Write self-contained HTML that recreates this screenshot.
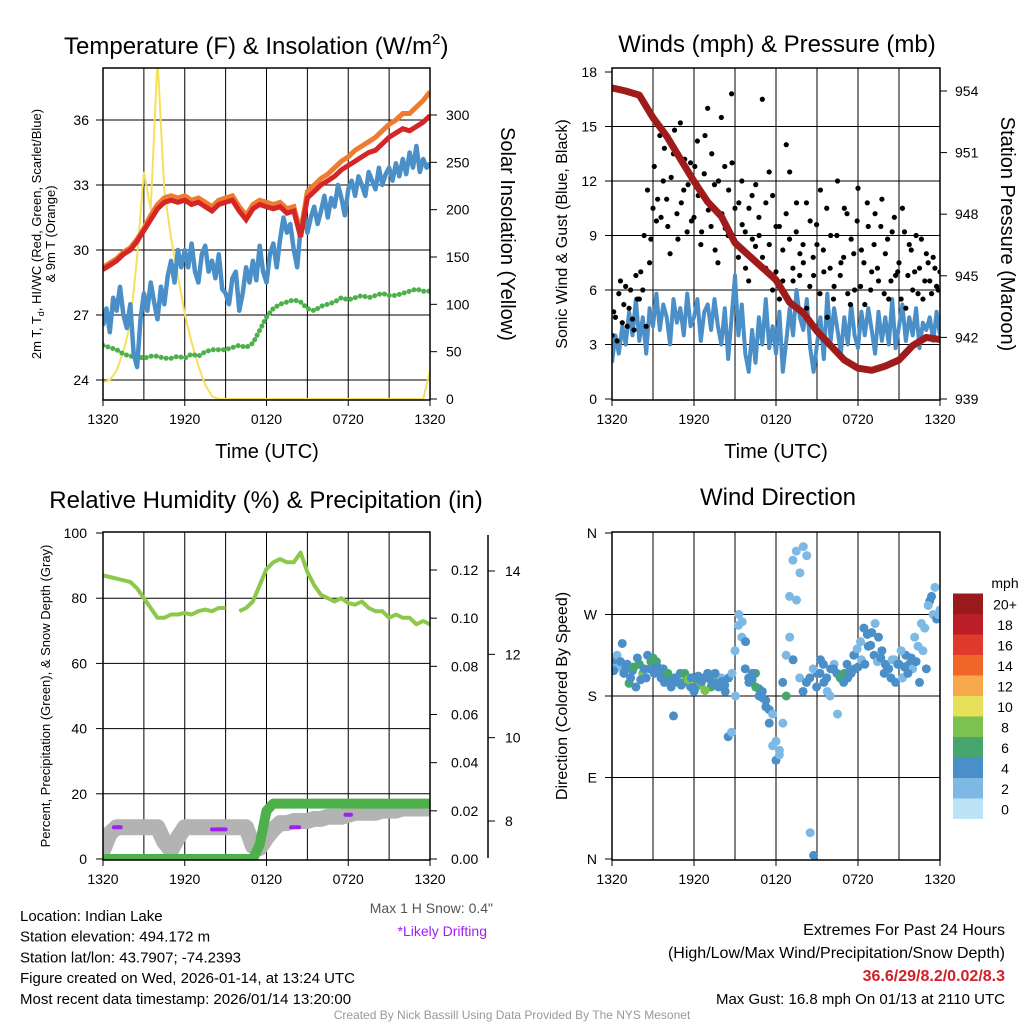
<!DOCTYPE html>
<html><head><meta charset="utf-8"><style>
body{margin:0;background:#fff;}
svg{display:block;font-family:"Liberation Sans",Arial,sans-serif;}
</style></head><body>
<svg id="c" width="1024" height="1024" viewBox="0 0 1024 1024">
<defs>
<clipPath id="cp1"><rect x="103" y="68" width="327" height="332"/></clipPath>
<clipPath id="cp2"><rect x="612" y="68" width="328" height="332"/></clipPath>
<clipPath id="cp3"><rect x="103" y="532" width="327" height="328"/></clipPath>
<clipPath id="cp4"><rect x="612" y="532" width="328" height="328"/></clipPath>
</defs>
</svg>
<script>
// ---- data ----
const timeTicks = ["1320","1920","0120","0720","1320"];
const tempTicks = [24,27,30,33,36];
const solarTicks = [0,50,100,150,200,250,300];
const windTicks = [0,3,6,9,12,15,18];
const presTicks = [939,942,945,948,951,954];
const rhTicks = [0,20,40,60,80,100];
const precipTicks = [0.00,0.02,0.04,0.06,0.08,0.10,0.12];
const snowTicks = [8,10,12,14];
const dirTicks = ["N","E","S","W","N"];
const speedBins = ["0","2","4","6","8","10","12","14","16","18","20+"];
const speedColors = ["#bde3f7","#7db9e4","#4a8fc7","#47a66e","#7cc24e","#e7e05a","#f7a84a","#f06629","#e03a2c","#bb1e26","#981a1d"];

const tempRed = [29.1,29.3,29.5,29.8,30.0,30.4,30.9,31.4,31.9,32.2,32.3,32.2,32.3,32.1,32.2,32.0,31.8,32.1,32.2,32.3,31.8,31.4,31.9,32.1,32.0,31.9,32.0,31.7,31.8,30.6,32.4,32.7,33.0,33.2,33.4,33.7,33.9,34.1,34.3,34.5,34.6,34.9,35.2,35.4,35.6,35.5,35.7,35.9,36.2];
const tempOrange = [29.2,29.4,29.6,29.9,30.1,30.5,31.0,31.6,32.1,32.4,32.5,32.4,32.5,32.3,32.4,32.2,32.0,32.3,32.4,32.5,32.0,31.6,32.1,32.3,32.2,32.1,32.2,31.9,32.0,30.8,32.7,33.0,33.3,33.5,33.8,34.1,34.3,34.6,34.8,35.0,35.2,35.5,35.8,36.0,36.3,36.3,36.6,36.9,37.3];
const dewGreen = [25.6,25.5,25.4,25.2,25.1,25.1,25.0,25.1,25.1,25.0,25.0,25.1,25.0,25.2,25.1,25.3,25.4,25.4,25.4,25.5,25.6,25.5,25.7,26.3,26.9,27.3,27.5,27.6,27.7,27.6,27.3,27.2,27.4,27.5,27.6,27.8,27.7,27.8,27.9,27.8,27.9,28.0,27.9,27.9,28.0,28.1,28.2,28.1,28.1];
const wcBlue = [26.5,27.3,26.2,27.8,27.2,28.3,27.0,26.4,27.5,25.2,24.6,26.8,28.0,27.2,28.5,27.6,26.8,28.3,27.5,28.8,29.5,28.5,30.0,29.2,30.0,29.2,30.3,29.0,28.5,29.8,30.2,29.0,29.5,28.7,29.8,28.2,28.0,27.5,28.7,29.0,27.2,28.0,29.2,28.5,29.5,28.6,30.2,29.0,28.5,29.8,30.3,29.2,30.5,31.5,30.8,31.2,30.0,29.2,31.0,31.8,30.8,31.5,32.0,31.2,31.8,32.5,31.5,32.4,32.0,33.0,32.4,31.6,32.8,33.2,32.5,33.4,33.0,32.5,33.6,33.2,32.8,33.8,33.0,33.5,33.8,33.2,34.0,33.4,34.2,33.5,34.5,33.8,34.8,33.6,34.2,33.8,34.0];
const solar = [18,20,30,50,80,150,240,200,360,220,170,130,90,60,35,15,3,0,0,0,0,0,0,0,0,0,0,0,0,0,0,0,0,0,0,0,0,0,0,0,0,0,0,0,0,0,0,0,30];

const windSpeed = [2.0,3.5,2.5,4.0,3.0,4.8,3.5,5.5,3.2,4.5,2.5,5.0,4.0,5.8,3.8,5.2,4.5,3.0,5.5,4.2,5.0,3.5,5.8,4.0,4.5,5.5,3.2,4.8,5.2,3.8,5.5,4.0,3.0,5.0,2.2,4.5,6.8,3.5,5.2,2.5,1.5,3.8,2.0,4.5,3.0,5.5,2.8,4.0,2.5,4.8,1.5,3.2,5.0,3.5,6.0,4.5,3.8,5.5,2.8,1.5,3.0,4.5,2.2,5.8,3.2,5.0,3.8,2.5,4.5,3.0,5.2,3.5,2.8,4.8,3.5,5.0,3.8,2.5,4.8,3.2,4.5,3.0,5.5,2.8,4.0,5.2,3.2,4.5,3.5,5.0,2.8,4.2,3.8,4.5,3.2,4.8,3.5];
const windGust = [3.5,4.5,5.8,4.2,6.2,5.0,4.4,6.8,5.5,6.0,4.0,7.5,10.5,9.8,14.5,12.0,11.0,8.0,13.5,10.2,15.2,11.5,9.2,13.0,10.0,14.2,8.5,12.4,16.0,9.5,11.8,7.5,15.5,12.8,9.0,16.8,10.5,7.8,12.0,9.2,6.5,11.2,8.4,10.0,16.5,7.2,12.5,6.0,9.5,5.5,8.2,14.0,12.5,6.5,10.8,8.0,7.5,5.0,9.8,6.8,8.5,11.5,7.0,4.5,9.0,6.2,12.0,7.5,10.5,5.8,8.8,6.0,11.6,8.2,5.2,9.5,7.0,10.2,6.5,11.0,8.0,5.5,9.2,6.8,7.5,10.5,5.0,8.5,6.0,9.0,7.2,5.5,8.0,6.5,7.8,6.2,7.0];
const windGust2 = [4.8,3.2,6.5,5.2,4.0,6.0,3.8,5.5,7.0,9.0,11.5,8.8,12.8,11.0,10.0,13.8,9.5,12.2,14.8,8.8,10.8,13.2,11.8,9.8,12.8,11.2,9.2,14.5,10.4,13.5,8.2,12.0,10.2,9.4,11.5,13.0,8.6,10.8,9.6,7.2,10.5,8.8,11.8,9.0,7.8,10.8,8.5,11.2,7.0,9.5,6.5,10.2,8.8,7.2,9.2,6.8,8.5,10.8,6.2,7.8,9.6,5.8,8.2,10.5,7.2,5.5,9.0,6.8,7.8,10.2,5.2,8.0,9.8,6.2,7.5,10.8,6.0,8.5,7.2,9.5,5.8,8.8,6.5,10.0,7.0,5.5,9.2,6.8,8.2,7.0,5.8,8.8,6.5,7.5,5.8,7.2,6.0];
const pressure = [954.15,954.0,953.8,952.7,951.8,950.7,949.6,948.6,947.9,946.6,946.0,945.4,944.8,943.7,943.2,942.3,941.6,940.9,940.5,940.4,940.6,940.9,941.6,942.0,941.9];

const rh = [87,86.5,86,85.5,85,83,80,77,74,74,75,75,75.5,75,76,76.5,76,77,77,null,76,77,79,84,89,91,92,91,91,94,88,84,81,80,79,80,78.5,78,79,77,76,76,74,75,74,74,72,73,72];
const precip = [0,0,0,0,0,0,0,0,0,0,0,0,0,0,0,0,0,0,0,0,0,0,0,0.006,0.02,0.023,0.023,0.023,0.023,0.023,0.023,0.023,0.023,0.023,0.023,0.023,0.023,0.023,0.023,0.023,0.023,0.023,0.023,0.023,0.023,0.023,0.023,0.023,0.023];
const snowDepth = [7.3,7.7,7.85,7.85,7.85,7.85,7.85,7.85,7.85,7.5,7.3,7.6,7.85,7.85,7.85,7.85,7.85,7.85,7.85,7.85,7.85,7.85,7.4,7.35,7.6,7.8,7.95,7.95,8.0,8.0,8.0,8.05,8.05,8.1,8.1,8.1,8.15,8.2,8.2,8.2,8.2,8.25,8.25,8.25,8.3,8.3,8.3,8.3,8.3];
const driftStart = [0.8,8.0,13.8,17.8];
const driftEnd = [1.3,9.0,14.4,18.2];
const driftDepth = [7.85,7.8,7.85,8.15];

const windDir = [215,220,212,238,210,194,208,190,215,205,200,210,222,218,205,210,200,195,158,198,205,195,200,190,185,195,192,200,205,190,198,195,200,192,135,140,230,258,245,210,200,198,205,188,185,175,165,160,109,120,150,180,245,220,286,316,345,335,29,4,205,220,195,185,210,215,160,200,205,200,205,210,212,220,215,235,250,260,245,230,215,210,220,195,215,200,225,215,210,218,195,230,210,285,270,265,275];
const dirSpeed = [2,3,2,3,4,6,4,3,6,7,4,3,5,6,3,4,4,3,4,2,4,6,4,3,4,6,7,4,3,5,8,4,2,4,3,2,1,2,1,4,3,4,6,4,4,4,3,2,3,2,2,6,2,3,2,1,2,2,2,3,4,3,4,2,3,2,1,4,6,4,4,3,4,2,3,4,3,2,4,4,3,4,2,4,3,1,4,3,2,4,3,2,4,3,2,3,2];
const windDir2 = [208,225,218,205,215,200,212,222,198,210,225,218,205,212,200,195,205,190,200,195,192,205,198,200,188,202,196,186,200,195,205,190,196,185,200,205,180,270,262,240,195,205,190,180,178,168,150,125,130,115,195,225,290,330,340,200,185,195,200,210,190,205,215,200,180,210,205,200,195,215,208,225,232,240,255,248,236,225,218,222,205,210,200,220,215,230,212,205,222,245,235,260,255,280,290,300,270];
const dirSpeed2 = [3,2,4,3,4,3,6,4,4,3,4,6,4,4,3,4,6,4,3,4,4,6,7,4,4,3,4,7,4,4,4,4,3,4,4,2,2,1,2,4,4,4,6,4,4,3,3,2,2,2,3,1,2,1,2,2,4,3,4,2,4,3,4,4,2,4,3,6,4,4,4,3,2,2,4,4,4,3,2,4,3,4,4,2,4,2,4,4,3,1,2,2,2,2,3,2,2];

// ---- helpers ----
const svg = document.getElementById('c');
const NS = 'http://www.w3.org/2000/svg';
function mk(tag, attrs, parent){const e=document.createElementNS(NS,tag);for(const k in attrs)e.setAttribute(k,attrs[k]);(parent||svg).appendChild(e);return e;}
function txt(s,x,y,size,anchor,extra){const e=mk('text',Object.assign({x:x,y:y,'font-size':size,'text-anchor':anchor||'start',fill:'#000'},extra||{}));e.textContent=s;return e;}
function lin(a0,a1,p0,p1){return v=>p0+(v-a0)/(a1-a0)*(p1-p0);}
function path(vals,n,xs,ys){let d='',pen=false;vals.forEach((v,i)=>{if(v===null){pen=false;return;}const x=xs(i/(vals.length-1)*24),y=ys(v);d+=(pen?'L':'M')+x.toFixed(1)+' '+y.toFixed(1);pen=true;});return d;}
function frame(x0,y0,x1,y1,hGrid,ys,name){
  const g=mk('g',{});
  
  
  for(let h=3;h<24;h+=3){const x=x0+h/24*(x1-x0);mk('line',{x1:x,y1:y0,x2:x,y2:y1,stroke:'#000','stroke-width':1},g);}
  hGrid.forEach(v=>{const y=ys(v);mk('line',{x1:x0,y1:y,x2:x1,y2:y,stroke:'#000','stroke-width':1},g);});
}
function border(x0,y0,x1,y1,name){const r=mk('rect',{x:x0,y:y0,width:x1-x0,height:y1-y0,fill:'none',stroke:'#000','stroke-width':1.5});}
function xAxis(x0,x1,y,name){const g=mk('g',{});
  timeTicks.forEach((t,i)=>{const x=x0+i/4*(x1-x0);mk('line',{x1:x,y1:y,x2:x,y2:y+6,stroke:'#000'},g);const e=txt(t,x,y+24,14,'middle');g.appendChild(e);});}

// ===== Panel 1 =====
const p1x=lin(0,24,103,430), p1y=lin(24,36,380,120), p1s=lin(0,300,399,115);
frame(103,68,430,400,tempTicks,p1y,'temp-panel');
const g1=mk('g',{'clip-path':'url(#cp1)'});
let e;
e=mk('path',{d:path(solar,0,p1x,p1s),fill:'none',stroke:'#f5e05a','stroke-width':2},g1);


e=mk('path',{d:path(dewGreen,0,p1x,p1y),fill:'none',stroke:'#4db04a','stroke-width':5,'stroke-dasharray':'0.1 5','stroke-linecap':'round'},g1);


e=mk('path',{d:path(wcBlue,0,p1x,p1y),fill:'none',stroke:'#4a8fc7','stroke-width':4.5,'stroke-linejoin':'round'},g1);


e=mk('path',{d:path(tempOrange,0,p1x,p1y),fill:'none',stroke:'#f07a30','stroke-width':5},g1);


e=mk('path',{d:path(tempRed,0,p1x,p1y),fill:'none',stroke:'#d42626','stroke-width':5},g1);


border(103,68,430,400,'temp-panel');
xAxis(103,430,400,'temp-x-axis');
tempTicks.forEach(v=>{const y=p1y(v);mk('line',{x1:96,y1:y,x2:103,y2:y,stroke:'#000'});txt(String(v),89,y+5,14,'end');});
solarTicks.forEach(v=>{const y=p1s(v);mk('line',{x1:430,y1:y,x2:437,y2:y,stroke:'#000'});txt(String(v),446,y+5,14,'start');});
e=txt('Temperature (F) & Insolation (W/m',64,54,24,'start');


{const t=mk('tspan',{'font-size':15,dy:-10});t.textContent='2';e.appendChild(t);const t2=mk('tspan',{dy:10});t2.textContent=')';e.appendChild(t2);}
e=txt('Time (UTC)',267,458,20,'middle');


e=txt('2m T, T',0,0,13,'middle',{transform:'translate(41,234) rotate(-90)'});
{const s=mk('tspan',{'font-size':9,dy:3});s.textContent='d';e.appendChild(s);const s2=mk('tspan',{dy:-3});s2.textContent=', HI/WC (Red, Green, Scarlet/Blue)';e.appendChild(s2);}


e=txt('& 9m T (Orange)',0,0,13,'middle',{transform:'translate(55,234) rotate(-90)'});


e=txt('Solar Insolation (Yellow)',0,0,20,'middle',{transform:'translate(501,234) rotate(90)'});



// ===== Panel 2 =====
const p2x=lin(0,24,612,940), p2y=lin(0,18,399,72), p2p=lin(939,954,399,91);
frame(612,68,940,400,[3,6,9,12,15],p2y,'wind-panel');
const g2=mk('g',{'clip-path':'url(#cp2)'});
e=mk('path',{d:path(windSpeed,0,p2x,p2y),fill:'none',stroke:'#4a8fc7','stroke-width':4,'stroke-linejoin':'round'},g2);


windGust.forEach((v,i)=>{const c=mk('circle',{cx:p2x(i/(windGust.length-1)*24),cy:p2y(v),r:2.6,fill:'#000'},g2);

});
windGust2.forEach((v,i)=>{const c=mk('circle',{cx:p2x((i+0.5)/(windGust2.length)*24),cy:p2y(v),r:2.6,fill:'#000'},g2);

});
e=mk('path',{d:path(pressure,0,p2x,p2p),fill:'none',stroke:'#a01c1c','stroke-width':7,'stroke-linejoin':'round'},g2);


border(612,68,940,400,'wind-panel');
xAxis(612,940,400,'wind-x-axis');
windTicks.forEach(v=>{const y=p2y(v);mk('line',{x1:605,y1:y,x2:612,y2:y,stroke:'#000'});txt(String(v),597,y+5,14,'end');});
presTicks.forEach(v=>{const y=p2p(v);mk('line',{x1:940,y1:y,x2:947,y2:y,stroke:'#000'});txt(String(v),955,y+5,14,'start');});
e=txt('Winds (mph) & Pressure (mb)',777,52,24,'middle');


e=txt('Time (UTC)',776,458,20,'middle');


e=txt('Sonic Wind & Gust (Blue, Black)',0,0,16,'middle',{transform:'translate(567,234) rotate(-90)'});


e=txt('Station Pressure (Maroon)',0,0,20,'middle',{transform:'translate(1001,234) rotate(90)'});



// ===== Panel 3 =====
const p3x=lin(0,24,103,430), p3y=lin(0,100,859,533), p3p=lin(0,0.12,859,570), p3s=lin(8,14,821,571);
frame(103,532,430,860,[20,40,60,80],p3y,'rh-panel');
const g3=mk('g',{'clip-path':'url(#cp3)'});
e=mk('path',{d:path(snowDepth,0,p3x,p3s),fill:'none',stroke:'#b3b3b3','stroke-width':16,'stroke-linejoin':'round','stroke-linecap':'round'},g3);


driftStart.forEach((s,i)=>{const l=mk('line',{x1:p3x(s),y1:p3s(driftDepth[i]),x2:p3x(driftEnd[i]),y2:p3s(driftDepth[i]),stroke:'#a020f0','stroke-width':4,'stroke-linecap':'round'},g3);

});
e=mk('path',{d:path(precip,0,p3x,p3p),fill:'none',stroke:'#4db04a','stroke-width':10,'stroke-linejoin':'round'},g3);


e=mk('path',{d:path(rh,0,p3x,p3y),fill:'none',stroke:'#8cc84b','stroke-width':4,'stroke-linejoin':'round'},g3);


border(103,532,430,860,'rh-panel');
xAxis(103,430,860,'rh-x-axis');
rhTicks.forEach(v=>{const y=p3y(v);mk('line',{x1:96,y1:y,x2:103,y2:y,stroke:'#000'});txt(String(v),87,y+5,14,'end');});
precipTicks.forEach(v=>{const y=p3p(v);mk('line',{x1:430,y1:y,x2:437,y2:y,stroke:'#000'});txt(v.toFixed(2),451,y+5,14,'start');});
mk('line',{x1:488,y1:535,x2:488,y2:858,stroke:'#000','stroke-width':1.5});
snowTicks.forEach(v=>{const y=p3s(v);mk('line',{x1:488,y1:y,x2:495,y2:y,stroke:'#000'});txt(String(v),505,y+5,14,'start');});
e=txt('Relative Humidity (%) & Precipitation (in)',266,508,24,'middle');


e=txt('Percent, Precipitation (Green), & Snow Depth (Gray)',0,0,13,'middle',{transform:'translate(50,696) rotate(-90)'});


e=txt('Max 1 H Snow: 0.4"',493,913,14,'end',{fill:'#555'});


e=txt('*Likely Drifting',487,936,14,'end',{fill:'#a020f0'});



// ===== Panel 4 =====
const p4x=lin(0,24,612,940), p4y=lin(0,360,859,533);
frame(612,532,940,860,[90,180,270],p4y,'direction-panel');
const g4=mk('g',{'clip-path':'url(#cp4)'});
function spColor(s){let b=Math.round(s/2);if(b>10)b=10;if(b<0)b=0;return speedColors[b];}
windDir.forEach((d,i)=>{const c=mk('circle',{cx:p4x(i/(windDir.length-1)*24),cy:p4y(d),r:4.5,fill:spColor(dirSpeed[i])},g4);

});
windDir2.forEach((d,i)=>{const c=mk('circle',{cx:p4x((i+0.5)/(windDir2.length)*24),cy:p4y(d),r:4.5,fill:spColor(dirSpeed2[i])},g4);

});
border(612,532,940,860,'direction-panel');
xAxis(612,940,860,'direction-x-axis');
dirTicks.forEach((t,i)=>{const y=p4y(i*90);mk('line',{x1:605,y1:y,x2:612,y2:y,stroke:'#000'});txt(t,597,y+5,14,'end');});
e=txt('Wind Direction',778,505,24,'middle');


e=txt('Direction (Colored By Speed)',0,0,16,'middle',{transform:'translate(567,696) rotate(-90)'});


const cb=mk('g',{});


speedBins.forEach((b,i)=>{const y=819-(i+1)*20.5;mk('rect',{x:953,y:y,width:30,height:20.5,fill:speedColors[i]},cb);cb.appendChild(txt(b,1005,y+16,14,'middle'));});
cb.appendChild(txt('mph',1005,588,14,'middle'));

// ===== Footer text =====
const info=["Location: Indian Lake","Station elevation: 494.172 m","Station lat/lon: 43.7907; -74.2393","Figure created on Wed, 2026-01-14, at 13:24 UTC","Most recent data timestamp: 2026/01/14 13:20:00"];
info.forEach((s,i)=>{const t=txt(s,20,921+i*20.7,15,'start');

});
e=txt('Extremes For Past 24 Hours',1005,935,16,'end');


e=txt('(High/Low/Max Wind/Precipitation/Snow Depth)',1005,958,16,'end');


e=txt('36.6/29/8.2/0.02/8.3',1005,981,16,'end',{fill:'#d0202a','font-weight':'bold'});


e=txt('Max Gust: 16.8 mph On 01/13 at 2110 UTC',1005,1004,15,'end');


e=txt('Created By Nick Bassill Using Data Provided By The NYS Mesonet',512,1019,12,'middle',{fill:'#999'});


</script>
</body></html>
